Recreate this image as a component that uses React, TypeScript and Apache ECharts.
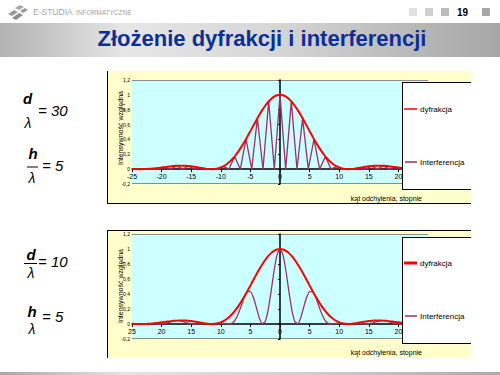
import React, { useEffect, useRef } from "react";
import * as echarts from "echarts";

// ---- data ----
const ANGLES = [
  -25, -24.5, -24, -23.5, -23, -22.5, -22, -21.5, -21, -20.5, -20, -19.5, -19, -18.5, -18, -17.5, -17,
  -16.5, -16, -15.5, -15, -14.5, -14, -13.5, -13, -12.5, -12, -11.5, -11, -10.5, -10, -9.5, -9, -8.5,
  -8, -7.5, -7, -6.5, -6, -5.5, -5, -4.5, -4, -3.5, -3, -2.5, -2, -1.5, -1, -0.5, 0, 0.5, 1, 1.5, 2,
  2.5, 3, 3.5, 4, 4.5, 5, 5.5, 6, 6.5, 7, 7.5, 8, 8.5, 9, 9.5, 10, 10.5, 11, 11.5, 12, 12.5, 13, 13.5,
  14, 14.5, 15, 15.5, 16, 16.5, 17, 17.5, 18, 18.5, 19, 19.5, 20, 20.5, 21, 21.5, 22, 22.5, 23, 23.5,
  24, 24.5, 25,
];

// diffraction envelope (same for both charts, h/λ = 5)
const DIFFRACTION = [
  0.003, 0.001, 0.0, 0.0, 0.001, 0.002, 0.004, 0.008, 0.012, 0.016, 0.022, 0.027, 0.032, 0.037, 0.042,
  0.045, 0.047, 0.047, 0.046, 0.043, 0.039, 0.033, 0.026, 0.019, 0.012, 0.006, 0.001, 0.0, 0.002, 0.009,
  0.022, 0.041, 0.066, 0.099, 0.14, 0.187, 0.242, 0.303, 0.369, 0.439, 0.512, 0.586, 0.659, 0.729, 0.794,
  0.853, 0.904, 0.945, 0.975, 0.994, 1.0, 0.994, 0.975, 0.945, 0.904, 0.853, 0.794, 0.729, 0.659, 0.586,
  0.512, 0.439, 0.369, 0.303, 0.242, 0.187, 0.14, 0.099, 0.066, 0.041, 0.022, 0.009, 0.002, 0.0, 0.001,
  0.006, 0.012, 0.019, 0.026, 0.033, 0.039, 0.043, 0.046, 0.047, 0.047, 0.045, 0.042, 0.037, 0.032,
  0.027, 0.022, 0.016, 0.012, 0.008, 0.004, 0.002, 0.001, 0.0, 0.0, 0.001, 0.003,
];

// interference, d/λ = 10 (lower chart)
const INTERFERENCE_D10 = [
  0.002, 0.001, 0.0, 0.0, 0.001, 0.001, 0.002, 0.002, 0.001, 0.0, 0.001, 0.007, 0.016, 0.028, 0.038,
  0.045, 0.044, 0.036, 0.024, 0.011, 0.003, 0.0, 0.002, 0.005, 0.006, 0.004, 0.001, 0.0, 0.002, 0.007,
  0.01, 0.008, 0.003, 0.0, 0.015, 0.062, 0.145, 0.254, 0.363, 0.432, 0.433, 0.356, 0.223, 0.084, 0.004,
  0.034, 0.189, 0.438, 0.71, 0.921, 1.0, 0.921, 0.71, 0.438, 0.189, 0.034, 0.004, 0.084, 0.223, 0.356,
  0.433, 0.432, 0.363, 0.254, 0.145, 0.062, 0.015, 0.0, 0.003, 0.008, 0.01, 0.007, 0.002, 0.0, 0.001,
  0.004, 0.006, 0.005, 0.002, 0.0, 0.003, 0.011, 0.024, 0.036, 0.044, 0.045, 0.038, 0.028, 0.016, 0.007,
  0.001, 0.0, 0.001, 0.002, 0.002, 0.001, 0.001, 0.0, 0.0, 0.001, 0.002,
];

const INTERFERENCE_D30_X = [
  -25, -24.62, -23.58, -22.54, -21.51, -20.49, -19.47, -18.46, -17.46, -16.46, -15.47, -14.48, -13.49,
  -12.51, -11.54, -10.56, -9.59, -8.63, -7.66, -6.7, -5.74, -4.78, -3.82, -2.87, -1.91, -0.96, 0, 0.96,
  1.91, 2.87, 3.82, 4.78, 5.74, 6.7, 7.66, 8.63, 9.59, 10.56, 11.54, 12.51, 13.49, 14.48, 15.47, 16.46,
  17.46, 18.46, 19.47, 20.49, 21.51, 22.54, 23.58, 24.62, 25,
];
const INTERFERENCE_D30_Y = [
  0.002, 0, 0, 0, 0.008, 0, 0.027, 0, 0.045, 0, 0.043, 0, 0.019, 0, 0, 0, 0.037, 0, 0.171, 0, 0.405, 0,
  0.684, 0, 0.912, 0, 1.0, 0, 0.912, 0, 0.684, 0, 0.405, 0, 0.171, 0, 0.037, 0, 0, 0, 0.019, 0, 0.043, 0,
  0.045, 0, 0.027, 0, 0.008, 0, 0, 0, 0.002,
];

const X_MIN = -25;
const X_MAX = 25;
const X_STEP = 5;
const Y_MIN = -0.2;
const Y_MAX = 1.2;
const Y_STEP = 0.2;

const SERIES_NAMES = ["dyfrakcja", "Interferencja"];
const TITLE = "Złożenie dyfrakcji i interferencji";
const Y_TITLE = "Intensywność względna";
const X_TITLE = "kąt odchylenia, stopnie";

const RED = "#ff0000";
const PURPLE = "#993366";
const FONT = "Liberation Sans, Arial, sans-serif";

function txt(x: number, y: number, text: string, opts: any = {}, extra: any = {}) {
  const align = opts.align || "left";
  const vAlign = opts.verticalAlign || "middle";
  return {
    type: "text",
    x,
    y,
    ...extra,
    style: {
      text,
      fill: opts.fill || "#000",
      fontSize: opts.fontSize || 8,
      fontFamily: opts.fontFamily || FONT,
      fontWeight: opts.fontWeight || "normal",
      fontStyle: opts.fontStyle || "normal",
      align,
      verticalAlign: vAlign,
      textAlign: align,
      textVerticalAlign: vAlign,
    },
  };
}

function ln(x1: number, y1: number, x2: number, y2: number, stroke: string, lineWidth: number) {
  return { type: "line", shape: { x1, y1, x2, y2 }, style: { stroke, lineWidth } };
}

function rect(x: number, y: number, width: number, height: number, fill: any) {
  return { type: "rect", shape: { x, y, width, height }, style: { fill } };
}

function yLabel(v: number) {
  const r = Math.round(v * 10) / 10;
  return String(r).replace(".", ",");
}

// grid bottom is at y = -0.2, the x axis sits on y = 0
function makeXAxis(grid: number, abs: boolean, offset: number) {
  return {
    gridIndex: grid,
    type: "value",
    position: "bottom",
    offset,
    min: X_MIN,
    max: X_MAX,
    interval: X_STEP,
    axisLine: { show: true, onZero: false, lineStyle: { color: "#000", width: 1.5 } },
    axisTick: { show: true, length: 3, lineStyle: { color: "#000" } },
    axisLabel: {
      fontSize: 7,
      color: "#000",
      margin: 4,
      fontFamily: FONT,
      formatter: (v: number) => (abs ? String(Math.abs(v)) : String(v)),
    },
    splitLine: { show: false },
  };
}

function makeYAxis(grid: number) {
  return {
    gridIndex: grid,
    type: "value",
    min: Y_MIN,
    max: Y_MAX,
    interval: Y_STEP,
    axisLine: { show: true, onZero: true, lineStyle: { color: "#000", width: 1.5 } },
    axisTick: { show: true, length: 2, lineStyle: { color: "#000" } },
    axisLabel: { fontSize: 5, color: "#000", margin: 2, fontFamily: FONT, formatter: yLabel },
    splitLine: { show: false },
  };
}

export default function App() {
  const ref = useRef<HTMLDivElement>(null);
  const refTop = useRef<HTMLDivElement>(null);

  useEffect(() => {
    if (!ref.current || !refTop.current) return;
    const chart = echarts.init(ref.current, undefined, { renderer: "svg" });
    const overlay = echarts.init(refTop.current, undefined, { renderer: "svg" });

    const diff = ANGLES.map((a, i) => [a, DIFFRACTION[i]]);
    const int10 = ANGLES.map((a, i) => [a, INTERFERENCE_D10[i]]);
    const int30 = INTERFERENCE_D30_X.map((a, i) => [a, INTERFERENCE_D30_Y[i]]);

    const titleGrad = new echarts.graphic.LinearGradient(0, 0, 1, 0, [
      { offset: 0, color: "#b2b2b2" },
      { offset: 0.25, color: "#e6e6e6" },
      { offset: 0.55, color: "#d6d6d6" },
      { offset: 1, color: "#a6a6a6" },
    ]);
    const footGrad = new echarts.graphic.LinearGradient(0, 0, 1, 0, [
      { offset: 0, color: "#a8a8a8" },
      { offset: 0.25, color: "#e4e4e4" },
      { offset: 0.6, color: "#d0d0d0" },
      { offset: 1, color: "#aaaaaa" },
    ]);

    // background decoration (under the plots)
    const background: any[] = [
      // header
      { type: "polygon", shape: { points: [[8, 14], [14, 10], [18, 12], [12, 16]] }, style: { fill: "#9a9a9a" } },
      { type: "polygon", shape: { points: [[12, 18], [19, 13], [23, 15], [16, 20]] }, style: { fill: "#8c8c8c" } },
      { type: "polygon", shape: { points: [[15, 8], [20, 5], [24, 7], [19, 10]] }, style: { fill: "#a8a8a8" } },
      { type: "polygon", shape: { points: [[20, 11], [25, 8], [28, 10], [23, 13]] }, style: { fill: "#9c9c9c" } },
      txt(33, 12, "E-STUDIA", { fontSize: 8.5, fill: "#a4a4a4" }),
      txt(76, 12.5, "INFORMATYCZNE", { fontSize: 6.5, fill: "#a4a4a4" }),
      rect(409, 8, 8, 8, "#e0e0e0"),
      rect(425, 8, 8, 8, "#cfcfcf"),
      rect(441, 8, 8, 8, "#bcbcbc"),
      txt(462.5, 12.5, "19", { fontSize: 10, fontWeight: "bold", align: "center" }),
      rect(482, 8, 8, 8, "#a8a8a8"),
      // title band
      rect(0, 23, 500, 34, titleGrad),
      txt(262, 38, TITLE, { fontSize: 22, fontWeight: "bold", fill: "#0b2f96", align: "center" }),
      // footer band
      rect(0, 372, 500, 3, footGrad),

      // formulas, upper chart
      txt(27.5, 98, "d", { fontSize: 15, fontStyle: "italic", fontWeight: "bold", align: "center" }),
      txt(28, 123, "λ", { fontSize: 14, fontStyle: "italic", align: "center" }),
      txt(38, 110, "= 30", { fontSize: 15, fontStyle: "italic" }),
      txt(33, 153, "h", { fontSize: 15, fontStyle: "italic", fontWeight: "bold", align: "center" }),
      ln(27, 167, 38, 167, "#000", 1),
      txt(32, 178, "λ", { fontSize: 14, fontStyle: "italic", align: "center" }),
      txt(42, 165, "= 5", { fontSize: 15, fontStyle: "italic" }),
      // formulas, lower chart
      txt(31, 254, "d", { fontSize: 15, fontStyle: "italic", fontWeight: "bold", align: "center" }),
      ln(24, 263.5, 37, 263.5, "#000", 1),
      txt(31, 273, "λ", { fontSize: 14, fontStyle: "italic", align: "center" }),
      txt(38, 261, "= 10", { fontSize: 15, fontStyle: "italic" }),
      txt(32, 311, "h", { fontSize: 15, fontStyle: "italic", fontWeight: "bold", align: "center" }),
      txt(32, 329, "λ", { fontSize: 14, fontStyle: "italic", align: "center" }),
      txt(42, 316, "= 5", { fontSize: 15, fontStyle: "italic" }),

      // frame 1
      rect(107, 71, 364, 133, "#ffffcc"),
      rect(132, 80, 296, 104, "#ccffff"),
      ln(132, 80.5, 428, 80.5, "#8c8c8c", 1),
      ln(132, 183.5, 428, 183.5, "#8c8c8c", 1),
      ln(107.5, 71, 107.5, 204, "#000", 1),
      ln(107, 203.5, 471, 203.5, "#000", 1),
      txt(120, 128, Y_TITLE, { fontSize: 7, align: "center" }, { rotation: Math.PI / 2 }),
      txt(422, 198, X_TITLE, { fontSize: 7, align: "right" }),

      // frame 2
      rect(107, 230, 364, 128, "#ffffcc"),
      rect(132, 234, 296, 105, "#ccffff"),
      ln(132, 234.5, 428, 234.5, "#8c8c8c", 1),
      ln(132, 338.5, 428, 338.5, "#8c8c8c", 1),
      ln(107.5, 230, 107.5, 358, "#000", 1),
      ln(107, 230.5, 471, 230.5, "#000", 1),
      txt(120, 286, Y_TITLE, { fontSize: 7, align: "center" }, { rotation: Math.PI / 2 }),
      txt(422, 352, X_TITLE, { fontSize: 7, align: "right" }),
    ];

    // legend boxes (drawn over the plots, which continue behind them)
    const legends: any[] = [
      rect(402, 82, 69, 108, "#ffffff"),
      ln(402.5, 82, 402.5, 190, "#000", 1),
      ln(402, 82.5, 471, 82.5, "#000", 1),
      ln(402, 189.5, 471, 189.5, "#000", 1),
      ln(404, 109, 417, 109, RED, 1.5),
      txt(420, 109, SERIES_NAMES[0], { fontSize: 8 }),
      ln(405, 162, 417, 162, PURPLE, 1.5),
      txt(420, 162, SERIES_NAMES[1], { fontSize: 8 }),

      rect(402, 237, 69, 107, "#ffffff"),
      ln(402.5, 237, 402.5, 344, "#000", 1),
      ln(402, 237.5, 471, 237.5, "#000", 1),
      ln(402, 343.5, 471, 343.5, "#000", 1),
      ln(404, 263, 417, 263, RED, 3),
      txt(420, 263, SERIES_NAMES[0], { fontSize: 8 }),
      ln(405, 316, 417, 316, PURPLE, 1.5),
      txt(420, 316, SERIES_NAMES[1], { fontSize: 8 }),
    ];

    chart.setOption({
      animation: false,
      backgroundColor: "#ffffff",
      grid: [
        { left: 132, top: 80, width: 296, height: 104, show: false },
        { left: 132, top: 234, width: 296, height: 105, show: false },
      ],
      xAxis: [makeXAxis(0, false, -104 / 7), makeXAxis(1, true, -105 / 7)],
      yAxis: [makeYAxis(0), makeYAxis(1)],
      series: [
        {
          name: SERIES_NAMES[1],
          type: "line",
          xAxisIndex: 0,
          yAxisIndex: 0,
          data: int30,
          symbol: "none",
          lineStyle: { color: PURPLE, width: 1.3 },
          z: 3,
        },
        {
          name: SERIES_NAMES[0],
          type: "line",
          xAxisIndex: 0,
          yAxisIndex: 0,
          data: diff,
          symbol: "none",
          smooth: 0.2,
          lineStyle: { color: RED, width: 2 },
          z: 4,
        },
        {
          name: SERIES_NAMES[1],
          type: "line",
          xAxisIndex: 1,
          yAxisIndex: 1,
          data: int10,
          symbol: "none",
          smooth: 0.2,
          lineStyle: { color: PURPLE, width: 1.3 },
          z: 3,
        },
        {
          name: SERIES_NAMES[0],
          type: "line",
          xAxisIndex: 1,
          yAxisIndex: 1,
          data: diff,
          symbol: "none",
          smooth: 0.2,
          lineStyle: { color: RED, width: 2 },
          z: 4,
        },
      ],
      graphic: background,
    });

    overlay.setOption({
      animation: false,
      graphic: legends,
    });

    return () => {
      chart.dispose();
      overlay.dispose();
    };
  }, []);

  return (
    <div style={{ position: "absolute", left: 0, top: 0, width: 500, height: 375 }}>
      <div
        ref={ref}
        style={{ position: "absolute", left: 0, top: 0, width: 500, height: 375 }}
      />
      <div
        ref={refTop}
        style={{ position: "absolute", left: 0, top: 0, width: 500, height: 375, pointerEvents: "none" }}
      />
    </div>
  );
}
